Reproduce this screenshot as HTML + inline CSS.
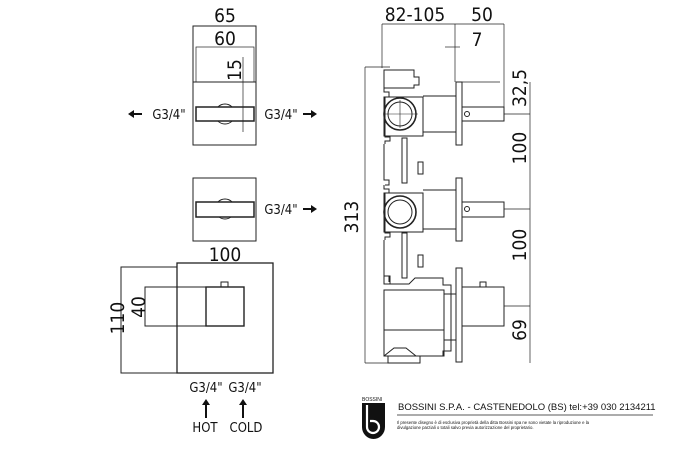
<!DOCTYPE html>
<html><head><style>
body{margin:0;background:#fff}
svg{display:block}
text{font-family:"DejaVu Sans Condensed","Liberation Sans",sans-serif;fill:#111}
.s{font-family:"Liberation Sans",sans-serif}
</style></head><body>
<svg width="678" height="450" viewBox="0 0 678 450" xmlns="http://www.w3.org/2000/svg">
<g fill="none" stroke="#222" stroke-width="1">
<rect x="193" y="26" width="63" height="119"/>
<rect x="196" y="47" width="58" height="35" stroke-width="0.7"/>
<line x1="193" y1="82" x2="256" y2="82"/>
<circle cx="225" cy="114" r="10"/>
<rect x="196" y="107" width="58" height="14" fill="#fff" stroke-width="1.5"/>
<line x1="243" y1="57" x2="243" y2="132" stroke-width="0.7"/>
<rect x="193" y="178" width="63" height="63"/>
<circle cx="225" cy="209" r="10"/>
<rect x="196" y="202" width="58" height="15" fill="#fff" stroke-width="1.5"/>
<rect x="121" y="267" width="56" height="106"/>
<rect x="177" y="263" width="96" height="110" stroke-width="1.3"/>
<rect x="145" y="287" width="99" height="39"/>
<rect x="206" y="287" width="38" height="39" stroke-width="1.4"/>
<path d="M221 287 v-5 h7 v5"/>
<line x1="382" y1="24" x2="504" y2="24" stroke-width="0.7"/>
<line x1="382" y1="24" x2="382" y2="68" stroke-width="0.7"/>
<line x1="455" y1="24" x2="455" y2="82" stroke-width="0.7"/>
<line x1="504" y1="24" x2="504" y2="107" stroke-width="0.7"/>
<line x1="445" y1="47" x2="460" y2="47" stroke-width="0.7"/>
<line x1="462" y1="82" x2="500" y2="82" stroke-width="0.7"/>
<line x1="365" y1="67" x2="365" y2="363" stroke-width="0.7"/>
<line x1="365" y1="67" x2="390" y2="67" stroke-width="0.7"/>
<line x1="365" y1="363" x2="420" y2="363" stroke-width="0.7"/>
<line x1="530" y1="82" x2="530" y2="363" stroke-width="0.7"/>
<line x1="504" y1="114" x2="530" y2="114" stroke-width="0.7"/>
<line x1="504" y1="209" x2="530" y2="209" stroke-width="0.7"/>
<line x1="504" y1="306" x2="530" y2="306" stroke-width="0.7"/>
<rect x="456" y="82" width="6" height="63"/>
<rect x="462" y="107" width="42" height="14"/>
<circle cx="467" cy="114" r="2.5"/>
<rect x="456" y="178" width="6" height="63"/>
<rect x="462" y="202" width="42" height="15"/>
<circle cx="467" cy="209" r="2.5"/>
<rect x="456" y="268" width="6" height="94"/>
<rect x="462" y="287" width="42" height="39"/>
<path d="M480 287 v-5 h6 v5"/>
<path d="M384 70 h30 v7 h5 v8 h-5 v3 h-30 z"/>
<path d="M384 88 v4 h5 v5 h-4 v40 h5 v4 h-5 v3"/>
<rect x="384" y="97" width="39" height="39"/>
<circle cx="400" cy="114" r="16" stroke-width="1.6"/>
<circle cx="400" cy="114" r="12"/>
<line x1="384" y1="114" x2="418" y2="114" stroke-width="0.6"/>
<line x1="400" y1="100" x2="400" y2="128" stroke-width="0.6"/>
<line x1="423" y1="96" x2="456" y2="96"/>
<line x1="423" y1="132" x2="456" y2="132"/>
<path d="M384 144 v36 h5 v5 h-4"/>
<rect x="402" y="138" width="5" height="45"/>
<rect x="418" y="162" width="5" height="12"/>
<path d="M384 185 v4 h5 v4 h-4 v40 h5 v4 h-5 v3"/>
<rect x="384" y="193" width="39" height="39"/>
<circle cx="400" cy="212" r="16" stroke-width="1.6"/>
<circle cx="400" cy="212" r="12"/>
<line x1="423" y1="190" x2="456" y2="190"/>
<line x1="423" y1="229" x2="456" y2="229"/>
<rect x="402" y="233" width="5" height="45"/>
<rect x="418" y="255" width="5" height="12"/>
<path d="M384 240 v36 h5 v6"/>
<rect x="384" y="276" width="6" height="8"/>
<path d="M384 284 h25 l6 -6 h28 v7 h8 v66 h-8 v5 h-28"/>
<rect x="384" y="290" width="60" height="66"/>
<line x1="384" y1="330" x2="444" y2="330"/>
<path d="M384 356 l10 -8 h12 l10 8"/>
<rect x="388" y="356" width="32" height="7"/>
<line x1="444" y1="294" x2="456" y2="294"/>
<line x1="444" y1="340" x2="456" y2="340"/>
</g>
<g fill="#111">
<path d="M128 114 l6 -4 v3 h8 v2 h-8 v3 z"/>
<path d="M317 114 l-6 -4 v3 h-8 v2 h8 v3 z"/>
<path d="M317 209 l-6 -4 v3 h-8 v2 h8 v3 z"/>
<path d="M206 399 l-4 6 h3 v13 h2 v-13 h3 z"/>
<path d="M243 399 l-4 6 h3 v13 h2 v-13 h3 z"/>
</g>
<g font-size="19" text-anchor="middle">
<text x="225" y="22">65</text>
<text x="225" y="45">60</text>
<text x="225" y="261">100</text>
<text x="415" y="21">82-105</text>
<text x="482" y="21">50</text>
<text x="477" y="46">7</text>
<text transform="translate(241,70) rotate(-90)">15</text>
<text transform="translate(124,318) rotate(-90)">110</text>
<text transform="translate(145,307) rotate(-90)">40</text>
<text transform="translate(358,217) rotate(-90)">313</text>
<text transform="translate(526,88) rotate(-90)">32,5</text>
<text transform="translate(526,148) rotate(-90)">100</text>
<text transform="translate(526,245) rotate(-90)">100</text>
<text transform="translate(526,330) rotate(-90)">69</text>
</g>
<g font-size="13" text-anchor="middle">
<text x="169" y="119">G3/4"</text>
<text x="281" y="119">G3/4"</text>
<text x="281" y="214">G3/4"</text>
<text x="206" y="392">G3/4"</text>
<text x="245" y="392">G3/4"</text>
<text x="205" y="432">HOT</text>
<text x="246" y="432">COLD</text>
</g>
<text x="362" y="401" font-size="5" class="s">BOSSINI</text>
<path d="M362 403 h23 v24 a11.5 12 0 0 1 -23 0 z" fill="#111"/>
<path d="M367 405 v22 a6 6 0 1 0 6 -6 h-3" fill="none" stroke="#fff" stroke-width="2.2"/>
<text x="398" y="410" font-size="9.5" class="s">BOSSINI S.P.A. - CASTENEDOLO (BS) tel:+39 030 2134211</text>
<line x1="397" y1="415" x2="653" y2="415" stroke="#222" stroke-width="0.8"/>
<text x="397" y="424" font-size="4.3" class="s">Il presente disegno è di esclusiva proprietà della ditta Bossini spa ne sono vietate la riproduzione e la</text>
<text x="397" y="429" font-size="4.3" class="s">divulgazione parziali o totali salvo previa autorizzazione del proprietario.</text>
</svg>
</body></html>
